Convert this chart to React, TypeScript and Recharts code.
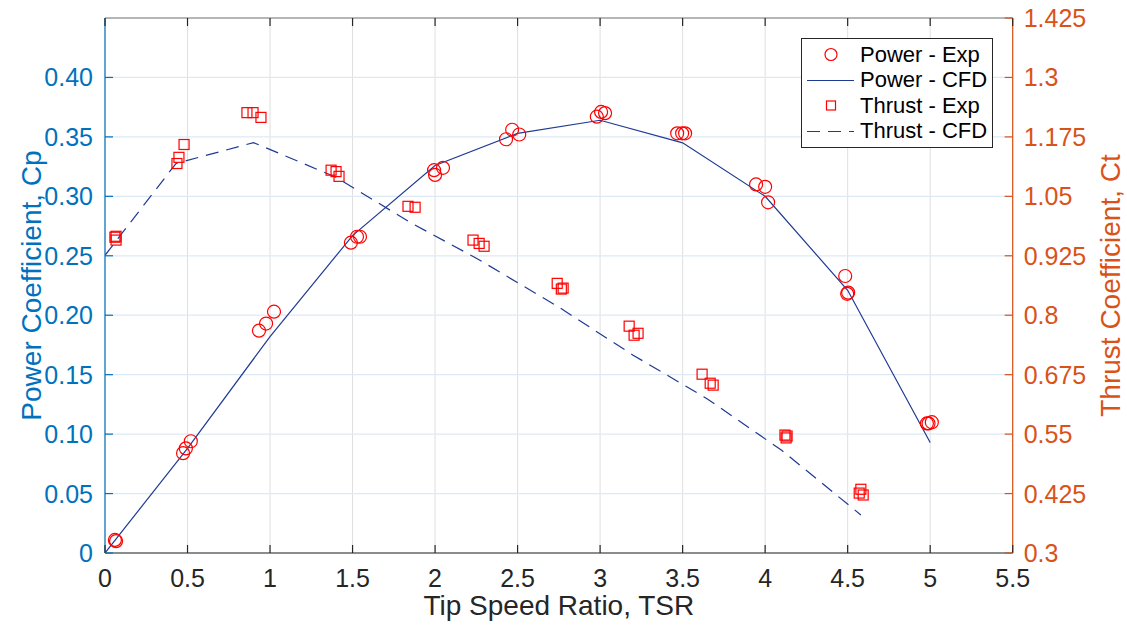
import {
  ComposedChart,
  Line,
  Scatter,
  XAxis,
  YAxis,
  CartesianGrid,
} from "recharts";

// x axis: tip speed ratio
const tsrTicks = [0, 0.5, 1, 1.5, 2, 2.5, 3, 3.5, 4, 4.5, 5, 5.5];
const cpTicks = [0, 0.05, 0.1, 0.15, 0.2, 0.25, 0.3, 0.35, 0.4];
const ctTicks = [0.3, 0.425, 0.55, 0.675, 0.8, 0.925, 1.05, 1.175, 1.3, 1.425];

const powerCfdTsr = [0, 0.5, 1, 1.5, 2, 2.5, 3, 3.5, 4, 4.5, 5];
const powerCfdCp = [0, 0.088, 0.182, 0.267, 0.326, 0.353, 0.364, 0.345, 0.3, 0.221, 0.093];

const thrustCfdTsr = [0, 0.43, 0.9, 1.4, 1.85, 2.25, 2.75, 3.2, 3.65, 4.1, 4.58];
const thrustCfdCt = [0.926, 1.119, 1.163, 1.09, 0.995, 0.92, 0.817, 0.716, 0.624, 0.516, 0.38];

const powerExpTsr = [
  0.06, 0.067, 0.473, 0.49, 0.52, 0.933, 0.976, 1.024, 1.49, 1.527, 1.545, 2.0, 1.994, 2.048,
  2.43, 2.467, 2.51, 2.98, 3.006, 3.03, 3.467, 3.497, 3.515, 3.945, 4.0, 4.018, 4.485, 4.503,
  4.497, 4.98, 5.01, 4.99,
];
const powerExpCp = [
  0.011, 0.01, 0.084, 0.088, 0.094, 0.187, 0.193, 0.203, 0.261, 0.266, 0.266, 0.318, 0.322,
  0.324, 0.348, 0.356, 0.352, 0.367, 0.371, 0.37, 0.353, 0.353, 0.353, 0.31, 0.308, 0.295,
  0.233, 0.219, 0.218, 0.109, 0.11, 0.109,
];

const thrustExpTsr = [
  0.06, 0.067, 0.067, 0.436, 0.448, 0.479, 0.86, 0.897, 0.945, 1.37, 1.4, 1.418, 1.836, 1.879,
  2.23, 2.267, 2.297, 2.74, 2.776, 2.765, 3.176, 3.206, 3.23, 3.618, 3.667, 3.685, 4.12, 4.133,
  4.127, 4.58, 4.594, 4.57,
];
const thrustExpCt = [
  0.964, 0.958, 0.966, 1.119, 1.132, 1.159, 1.226, 1.226, 1.216, 1.105, 1.102, 1.092, 1.029,
  1.027, 0.958, 0.951, 0.945, 0.867, 0.857, 0.855, 0.777, 0.758, 0.762, 0.676, 0.657, 0.653,
  0.548, 0.546, 0.542, 0.434, 0.422, 0.426,
];

const powerCfd = powerCfdTsr.map((tsr, i) => ({ tsr, cp: powerCfdCp[i] }));
const thrustCfd = thrustCfdTsr.map((tsr, i) => ({ tsr, ct: thrustCfdCt[i] }));
const powerExp = powerExpTsr.map((tsr, i) => ({ tsr, cp: powerExpCp[i] }));
const thrustExp = thrustExpTsr.map((tsr, i) => ({ tsr, ct: thrustExpCt[i] }));

const FONT = '"Liberation Sans", Arial, Helvetica, sans-serif';
const BLUE = "#0072BD";
const ORANGE = "#D95319";
const DARK = "#262626";
const LINE = "#1F3A93";
const RED = "#FF0000";
const TICK_LEN = 8;
const TICK_FONT = 25;
const LABEL_FONT = 28;

const fmtCp = (v: number) => (v === 0 ? "0" : v.toFixed(2));

function BottomTick({ x, y, payload }: any) {
  return (
    <g>
      <line x1={x} y1={y} x2={x} y2={y - TICK_LEN} stroke={DARK} strokeWidth={1.2} />
      <text x={x} y={y + 34} textAnchor="middle" fill={DARK} fontSize={TICK_FONT} fontFamily={FONT}>
        {String(payload.value)}
      </text>
    </g>
  );
}

function TopTick({ x, y }: any) {
  return <line x1={x} y1={y} x2={x} y2={y + TICK_LEN} stroke={DARK} strokeWidth={1.2} />;
}

function LeftTick({ x, y, payload }: any) {
  return (
    <g>
      <line x1={x} y1={y} x2={x + TICK_LEN} y2={y} stroke={BLUE} strokeWidth={1.2} />
      <text x={x - 12} y={y + 9} textAnchor="end" fill={BLUE} fontSize={TICK_FONT} fontFamily={FONT}>
        {fmtCp(payload.value)}
      </text>
    </g>
  );
}

function RightTick({ x, y, payload }: any) {
  return (
    <g>
      <line x1={x} y1={y} x2={x - TICK_LEN} y2={y} stroke={ORANGE} strokeWidth={1.2} />
      <text x={x + 11} y={y + 9} textAnchor="start" fill={ORANGE} fontSize={TICK_FONT} fontFamily={FONT}>
        {String(payload.value)}
      </text>
    </g>
  );
}

const CircleMark = ({ cx, cy }: any) => (
  <circle cx={cx} cy={cy} r={6.5} fill="none" stroke={RED} strokeWidth={1.2} />
);
const SquareMark = ({ cx, cy }: any) => (
  <rect x={cx - 5} y={cy - 5} width={10} height={10} fill="none" stroke={RED} strokeWidth={1.2} />
);

function LegendBox() {
  const rows = [
    { label: "Power - Exp", kind: "circle" },
    { label: "Power - CFD", kind: "line" },
    { label: "Thrust - Exp", kind: "square" },
    { label: "Thrust - CFD", kind: "dash" },
  ];
  return (
    <div
      style={{
        position: "absolute",
        left: 801,
        top: 38,
        width: 192,
        height: 110,
        border: `1px solid ${DARK}`,
        background: "#fff",
        fontFamily: FONT,
        fontSize: 22,
        color: "#000",
        boxSizing: "border-box",
        paddingTop: 3,
      }}
    >
      {rows.map((r) => (
        <div key={r.label} style={{ display: "flex", alignItems: "center", height: 25.5 }}>
          <svg width={58} height={25} style={{ flex: "none" }}>
            {r.kind === "circle" && (
              <circle cx={29} cy={12.5} r={6} fill="none" stroke={RED} strokeWidth={1.2} />
            )}
            {r.kind === "square" && (
              <rect x={24.5} y={8} width={9} height={9} fill="none" stroke={RED} strokeWidth={1.2} />
            )}
            {r.kind === "line" && (
              <line x1={5} y1={12.5} x2={52} y2={12.5} stroke={LINE} strokeWidth={1.2} />
            )}
            {r.kind === "dash" && (
              <line
                x1={5}
                y1={12.5}
                x2={52}
                y2={12.5}
                stroke={LINE}
                strokeWidth={1.2}
                strokeDasharray="13 8"
              />
            )}
          </svg>
          <span style={{ whiteSpace: "nowrap" }}>{r.label}</span>
        </div>
      ))}
    </div>
  );
}

export default function App() {
  return (
    <div style={{ position: "absolute", left: 0, top: 0, width: 1127, height: 630, background: "#fff" }}>
      <ComposedChart
        width={1127}
        height={630}
        margin={{ top: 0, right: 54.3, bottom: 0, left: 45 }}
      >
        <CartesianGrid
          xAxisId="bottom"
          yAxisId="cp"
          horizontal={false}
          stroke="#DFDFDF"
          strokeWidth={1}
        />
        <CartesianGrid
          xAxisId="bottom"
          yAxisId="cp"
          vertical={false}
          stroke="#DDEAF5"
          strokeWidth={1.2}
        />
        <XAxis
          xAxisId="bottom"
          dataKey="tsr"
          type="number"
          domain={[0, 5.5]}
          ticks={tsrTicks}
          allowDataOverflow
          height={77}
          tickSize={0}
          tickMargin={0}
          tickLine={false}
          axisLine={{ stroke: DARK, strokeWidth: 1.2 }}
          tick={<BottomTick />}
          interval={0}
          label={{
            value: "Tip Speed Ratio, TSR",
            position: "center",
            dy: 14,
            fill: DARK,
            fontSize: LABEL_FONT,
            fontFamily: FONT,
          }}
        />
        <XAxis
          xAxisId="top"
          orientation="top"
          dataKey="tsr"
          type="number"
          domain={[0, 5.5]}
          ticks={tsrTicks}
          allowDataOverflow
          height={18}
          tickSize={0}
          tickMargin={0}
          tickLine={false}
          axisLine={{ stroke: "#7a7a7a", strokeWidth: 1.2 }}
          tick={<TopTick />}
          interval={0}
        />
        <YAxis
          yAxisId="cp"
          orientation="left"
          type="number"
          domain={[0, 0.45]}
          ticks={cpTicks}
          allowDataOverflow
          width={60}
          tickSize={0}
          tickMargin={0}
          tickLine={false}
          axisLine={{ stroke: BLUE, strokeWidth: 1.2 }}
          tick={<LeftTick />}
          interval={0}
          label={{
            value: "Power Coefficient, Cp",
            angle: -90,
            position: "center",
            dx: -44,
            fill: BLUE,
            fontSize: LABEL_FONT,
            fontFamily: FONT,
          }}
        />
        <YAxis
          yAxisId="ct"
          orientation="right"
          type="number"
          domain={[0.3, 1.425]}
          ticks={ctTicks}
          allowDataOverflow
          width={60}
          tickSize={0}
          tickMargin={0}
          tickLine={false}
          axisLine={{ stroke: ORANGE, strokeWidth: 1.2 }}
          tick={<RightTick />}
          interval={0}
          label={{
            value: "Thrust Coefficient, Ct",
            angle: -90,
            position: "center",
            dx: 67,
            fill: ORANGE,
            fontSize: LABEL_FONT,
            fontFamily: FONT,
          }}
        />
        <Line
          xAxisId="bottom"
          yAxisId="cp"
          data={powerCfd}
          dataKey="cp"
          type="linear"
          stroke={LINE}
          strokeWidth={1.2}
          dot={false}
          isAnimationActive={false}
        />
        <Line
          xAxisId="bottom"
          yAxisId="ct"
          data={thrustCfd}
          dataKey="ct"
          type="linear"
          stroke={LINE}
          strokeWidth={1.2}
          strokeDasharray="13 8"
          dot={false}
          isAnimationActive={false}
        />
        <Scatter
          xAxisId="bottom"
          yAxisId="cp"
          data={powerExp}
          dataKey="cp"
          shape={<CircleMark />}
          isAnimationActive={false}
        />
        <Scatter
          xAxisId="bottom"
          yAxisId="ct"
          data={thrustExp}
          dataKey="ct"
          shape={<SquareMark />}
          isAnimationActive={false}
        />
      </ComposedChart>
      <LegendBox />
    </div>
  );
}
